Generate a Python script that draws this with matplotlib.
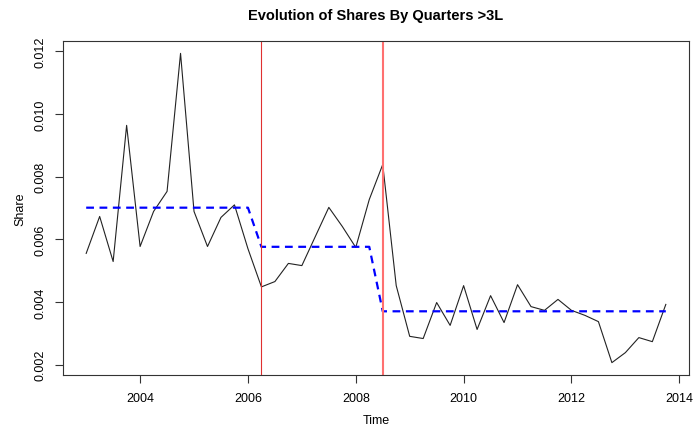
import matplotlib
matplotlib.use("Agg")
import matplotlib.pyplot as plt
import numpy as np

plt.rcParams['font.family'] = ['Liberation Sans', 'DejaVu Sans']

start_year = 2003.0
share = [0.00555, 0.00673, 0.00529, 0.00964, 0.00577, 0.00689, 0.00753, 0.01194,
         0.00689, 0.00577, 0.00670, 0.00710, 0.00570, 0.00448, 0.00465, 0.00523,
         0.00516, 0.00609, 0.00702, 0.00641, 0.00574, 0.00727, 0.00839, 0.00452,
         0.00290, 0.00283, 0.00398, 0.00325, 0.00452, 0.00312, 0.00420, 0.00334,
         0.00455, 0.00385, 0.00373, 0.00408, 0.00373, 0.00357, 0.00337, 0.00206,
         0.00238, 0.00286, 0.00273, 0.00392]
segment_levels = [0.00701, 0.00576, 0.00370]
segment_counts = [13, 9, 22]
breakpoints = [2006.25, 2008.5]

time = start_year + np.arange(len(share)) * 0.25
fitted = np.repeat(segment_levels, segment_counts)

fig = plt.figure(figsize=(6.93, 4.35), dpi=100)
ax = fig.add_axes([63/693, 1-376/435, (689-63)/693, (376-42)/435])

ax.plot(time, share, color='#222222', lw=0.8)
ax.plot(time, fitted, color='blue', lw=1.6, ls=(0, (3.5, 2.5)))
ax.axvline(breakpoints[0], color='#e03030', lw=0.8)
ax.axvline(breakpoints[1], color='#ff7070', lw=1.5)

ax.set_xlim(2002.57, 2014.18)
ax.set_ylim(0.001665, 0.012335)
xt = [2004, 2006, 2008, 2010, 2012, 2014]
yt = [0.002, 0.004, 0.006, 0.008, 0.010, 0.012]
ax.set_xticks(xt)
ax.set_xticklabels([str(x) for x in xt])
ax.set_yticks(yt)
ax.set_yticklabels(['%.3f' % y for y in yt], rotation=90, va='center')
ax.tick_params(direction='out', length=6, width=0.8, labelsize=9, color='#333333', pad=6)
for s in ax.spines.values():
    s.set_linewidth(0.8)
    s.set_color('#333333')

ax.set_xlabel('Time', fontsize=9)
ax.set_ylabel('Share', fontsize=9)
ax.yaxis.set_label_coords(-(63 - 26) / 626, 0.5)
ax.xaxis.set_label_coords(0.5, -(415 - 376) / 334)
fig.text(0.5 + 63/693/2 - (693-689)/693/2, 1-16/435, 'Evolution of Shares By Quarters >3L',
         ha='center', va='center', fontsize=10.5, fontweight='bold')

fig.savefig('out.png', dpi=100)
